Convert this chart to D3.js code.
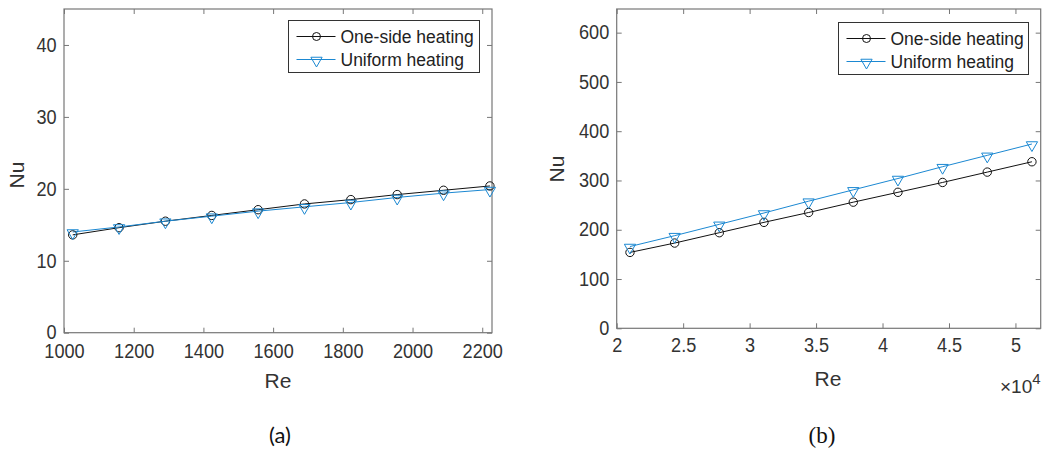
<!DOCTYPE html>
<html>
<head>
<meta charset="utf-8">
<script src="https://cdn.jsdelivr.net/npm/d3@7"></script>
<style>
  body { margin: 0; background: #fff; }
  svg { display: block; }
  text { font-family: 'Liberation Sans', 'Arial', sans-serif; }
  .tick line { stroke: #777; }
  .domain { stroke: none; }
</style>
</head>
<body>
<script>
'use strict';

// panel (a): laminar range
let reA = [1025, 1158, 1291, 1424, 1557, 1690, 1823, 1956, 2089, 2222];
let oneSideA = [13.6, 14.6, 15.5, 16.3, 17.1, 17.9, 18.5, 19.2, 19.8, 20.4];
let uniformA = [14.0, 14.7, 15.5, 16.2, 16.9, 17.5, 18.1, 18.8, 19.4, 19.9];
let xTicksA = [1000, 1200, 1400, 1600, 1800, 2000, 2200];
let yTicksA = [0, 10, 20, 30, 40];

// panel (b): turbulent range
let reB = [21000, 24360, 27720, 31080, 34440, 37800, 41160, 44520, 47880, 51240];
let oneSideB = [154, 173, 194, 215, 235, 256, 276, 296, 317, 338];
let uniformB = [166, 188, 211, 234, 258, 281, 304, 328, 351, 374];
let xTicksB = [20000, 25000, 30000, 35000, 40000, 45000, 50000];
let yTicksB = [0, 100, 200, 300, 400, 500, 600];

let seriesNames = ["One-side heating", "Uniform heating"];
let blue = "#1b88d2";
let sans = "'Liberation Sans', Arial, sans-serif";

let svg = d3.select("body").append("svg")
  .attr("width", 1049)
  .attr("height", 456);

// style tick labels of an axis group (slightly taller, narrower glyphs)
function styleTicks(sel) {
  sel.attr("font-family", sans).attr("font-size", 19.5);
  sel.selectAll(".tick text").attr("fill", "#333").attr("transform", "scale(0.93,1)");
}

// draws one panel with axes box, inward ticks, lines, markers, legend
function drawPanel(p) {
  let xScale = d3.scaleLinear().domain(p.xDomain).range([p.left, p.right]);
  let yScale = d3.scaleLinear().domain(p.yDomain).range([p.bottom, p.top]);

  let g = svg.append("g");

  // x axis at bottom, ticks inward
  g.append("g")
    .attr("transform", "translate(0," + p.bottom + ")")
    .call(d3.axisBottom(xScale).tickValues(p.xTicks).tickSize(-5).tickPadding(p.xPad).tickFormat(p.xFormat))
    .call(styleTicks);
  // top ticks
  g.append("g")
    .attr("transform", "translate(0," + p.top + ")")
    .call(d3.axisTop(xScale).tickValues(p.xTicks).tickSize(-5).tickFormat(""));
  // y axis left
  g.append("g")
    .attr("transform", "translate(" + p.left + ",0)")
    .call(d3.axisLeft(yScale).tickValues(p.yTicks).tickSize(-5).tickPadding(8))
    .call(styleTicks);
  // right ticks
  g.append("g")
    .attr("transform", "translate(" + p.right + ",0)")
    .call(d3.axisRight(yScale).tickValues(p.yTicks).tickSize(-5).tickFormat(""));

  // axes box
  g.append("rect")
    .attr("x", p.left).attr("y", p.top)
    .attr("width", p.right - p.left).attr("height", p.bottom - p.top)
    .attr("fill", "none").attr("stroke", "#777").attr("stroke-width", 1.2);

  let line = d3.line()
    .x((d) => xScale(d[0]))
    .y((d) => yScale(d[1]));

  let s1 = p.x.map((v, i) => [v, p.one[i]]);
  let s2 = p.x.map((v, i) => [v, p.uni[i]]);

  g.append("path").datum(s1)
    .attr("d", line).attr("fill", "none").attr("stroke", "#111").attr("stroke-width", 1);
  g.append("path").datum(s2)
    .attr("d", line).attr("fill", "none").attr("stroke", blue).attr("stroke-width", 1);

  g.selectAll(".circ").data(s1).enter().append("circle")
    .attr("cx", (d) => xScale(d[0]))
    .attr("cy", (d) => yScale(d[1]))
    .attr("r", 4.2)
    .attr("fill", "none").attr("stroke", "#111").attr("stroke-width", 1);

  let tri = d3.symbol().type(d3.symbolTriangle).size(55);
  g.selectAll(".tri").data(s2).enter().append("path")
    .attr("d", tri)
    .attr("transform", (d) => "translate(" + xScale(d[0]) + "," + (yScale(d[1]) + 1) + ") rotate(180)")
    .attr("fill", "none").attr("stroke", blue).attr("stroke-width", 1);

  // axis labels
  g.append("text")
    .attr("x", p.reX).attr("y", p.reY)
    .attr("text-anchor", "middle")
    .attr("font-family", sans).attr("font-size", 21).attr("fill", "#333")
    .text("Re");
  g.append("text")
    .attr("transform", "translate(" + p.nuX + "," + p.nuY + ") rotate(-90)")
    .attr("text-anchor", "middle")
    .attr("font-family", sans).attr("font-size", 21).attr("fill", "#333")
    .text("Nu");

  // legend
  let lg = g.append("g").attr("transform", "translate(" + p.legX + "," + p.legY + ")");
  lg.append("rect")
    .attr("x", 0).attr("y", 0).attr("width", p.legW).attr("height", 52)
    .attr("fill", "#fff").attr("stroke", "#333").attr("stroke-width", 1);
  let colors = ["#111", blue];
  seriesNames.forEach((name, i) => {
    let yy = 16 + i * 23;
    lg.append("line")
      .attr("x1", 8).attr("x2", 47).attr("y1", yy).attr("y2", yy)
      .attr("stroke", colors[i]).attr("stroke-width", 1);
    if (i == 0) {
      lg.append("circle").attr("cx", 28).attr("cy", yy).attr("r", 4)
        .attr("fill", "none").attr("stroke", colors[i]);
    } else {
      lg.append("path").attr("d", tri)
        .attr("transform", "translate(28," + (yy + 1) + ") rotate(180)")
        .attr("fill", "none").attr("stroke", colors[i]);
    }
    lg.append("text")
      .attr("x", 52).attr("y", yy + 6)
      .attr("font-family", sans).attr("font-size", 17.5).attr("fill", "#222")
      .text(name);
  });
}

drawPanel({
  left: 64, right: 492, top: 9, bottom: 332.7,
  xDomain: [1000, 2228], yDomain: [0, 45],
  xTicks: xTicksA, yTicks: yTicksA, xFormat: d3.format("d"), xPad: 11,
  x: reA, one: oneSideA, uni: uniformA,
  reX: 278, reY: 388, nuX: 24, nuY: 175,
  legX: 288.5, legY: 20.5, legW: 191
});

drawPanel({
  left: 616.7, right: 1040.7, top: 9, bottom: 328.3,
  xDomain: [20000, 51900], yDomain: [0, 648],
  xTicks: xTicksB, yTicks: yTicksB, xFormat: (d) => d3.format("")(d / 10000), xPad: 10,
  x: reB, one: oneSideB, uni: uniformB,
  reX: 828, reY: 386, nuX: 564, nuY: 169,
  legX: 838.5, legY: 22.5, legW: 190
});

// exponent label for panel (b)
let expo = svg.append("text")
  .attr("x", 1000).attr("y", 393)
  .attr("font-family", sans).attr("font-size", 19).attr("fill", "#333");
expo.append("tspan").text("\u00d710");
expo.append("tspan").attr("dy", -9).attr("font-size", 15).text("4");

// sub-figure captions
svg.append("text")
  .attr("x", 280).attr("y", 443)
  .attr("text-anchor", "middle")
  .style("font-family", "Lato, 'Open Sans', sans-serif")
  .style("font-size", "22px").style("fill", "#111")
  .text("(a)");
svg.append("text")
  .attr("x", 822).attr("y", 443)
  .attr("text-anchor", "middle")
  .style("font-family", "'Liberation Serif', serif")
  .style("font-size", "23px").style("fill", "#111")
  .text("(b)");
</script>
</body>
</html>
